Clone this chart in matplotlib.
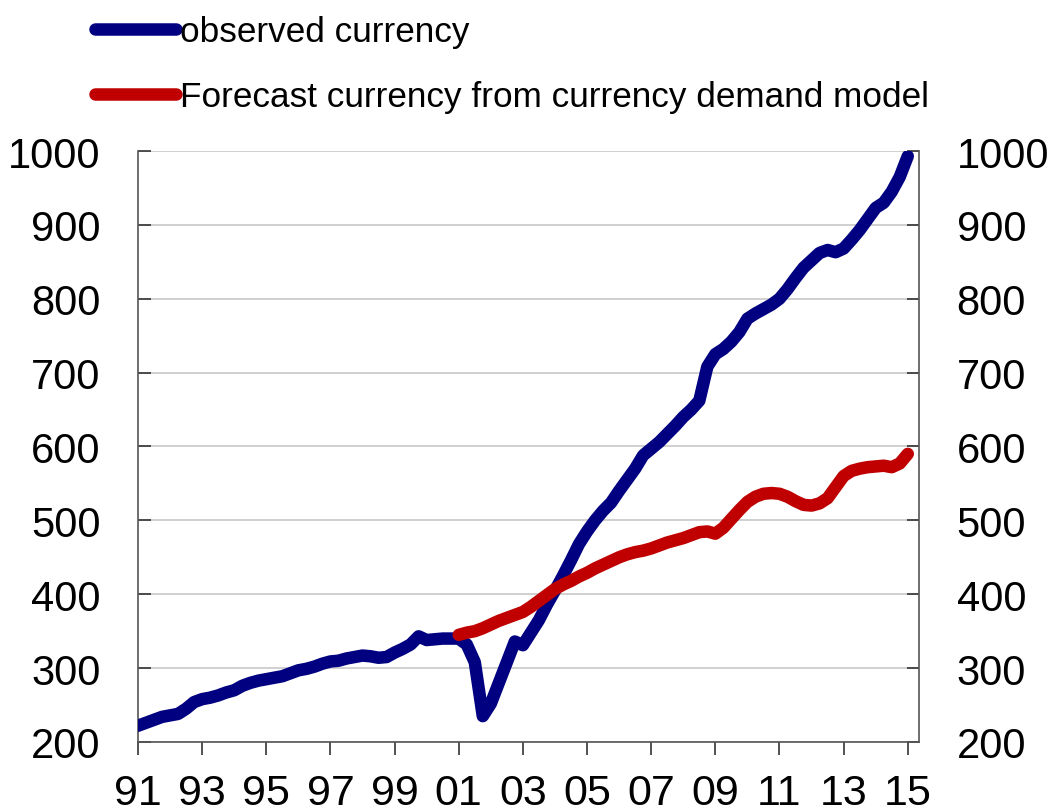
import numpy as np
import matplotlib
matplotlib.use("Agg")
import matplotlib.pyplot as plt

plt.rcParams['font.family'] = ['Liberation Sans', 'DejaVu Sans']

# quarterly, 1991Q1 .. 2015Q1
observed = [222, 226, 230, 234, 236, 238, 245, 254, 258, 260,
            263, 267, 270, 276, 280, 283, 285, 287, 289, 293,
            297, 299, 302, 306, 309, 310, 313, 315, 317, 316,
            314, 315, 321, 326, 332, 343, 338, 339, 340, 340,
            340, 332, 308, 235, 252, 280, 308, 336, 331, 348,
            365, 386, 405, 425, 446, 468, 485, 500, 513, 524,
            540, 555, 570, 588, 597, 606, 617, 628, 640, 650,
            662, 708, 725, 732, 742, 755, 773, 780, 786, 792,
            800, 813, 828, 842, 852, 862, 866, 863, 868, 880,
            893, 908, 923, 930, 945, 965, 993]

# forecast starts 2001Q1
forecast = [345, 348, 350, 354, 359, 364, 368, 372, 376, 383,
            391, 399, 407, 413, 418, 424, 429, 435, 440, 445,
            450, 454, 457, 459, 462, 466, 470, 473, 476, 480,
            484, 485, 482, 490, 502, 514, 525, 532, 536, 537,
            536, 532, 526, 521, 520, 523, 530, 545, 560, 567,
            570, 572, 573, 574, 572, 577, 590]

year_labels = ["91", "93", "95", "97", "99", "01", "03", "05", "07", "09", "11", "13", "15"]
y_ticks = [200, 300, 400, 500, 600, 700, 800, 900, 1000]

q_obs = np.arange(len(observed))
q_fc = np.arange(len(forecast)) + 40

fig = plt.figure(figsize=(10.55, 8.12), dpi=100)
ax = fig.add_axes([0.1308, 0.085, 0.7403, 0.7278])

l1, = ax.plot(q_obs, observed, color="#000080", lw=9, solid_capstyle="round",
              solid_joinstyle="round", label="observed currency", zorder=3)
l2, = ax.plot(q_fc, forecast, color="#C00000", lw=9, solid_capstyle="round",
              solid_joinstyle="round", label="Forecast currency from currency demand model", zorder=4)

ax.set_xlim(0, 97.4)
ax.set_ylim(200, 1000)
ax.set_yticks(y_ticks)
ax.set_xticks(np.arange(0, 97, 8))
ax.set_xticklabels(year_labels)
ax.yaxis.grid(True, color="#c8c8c8", lw=1.2)
ax.set_axisbelow(True)

for s in ["left", "right", "bottom"]:
    ax.spines[s].set_color("#555555")
    ax.spines[s].set_linewidth(1.2)
ax.spines["top"].set_visible(False)

ax.tick_params(axis="y", direction="in", length=9, width=1.2, color="#333333",
               labelsize=30, left=True, right=True, labelleft=True, labelright=True, pad=27)
ax.tick_params(axis="x", direction="out", length=9, width=1.2, color="#333333",
               labelsize=31, pad=13)

fig.legend(handles=[l1, l2], loc="upper left", bbox_to_anchor=(0.07, 1.006),
           frameon=False, fontsize=25.3, handlelength=2.3, handletextpad=0.12,
           labelspacing=0.9, borderaxespad=0.2)

fig.savefig("out.png", dpi=100)
